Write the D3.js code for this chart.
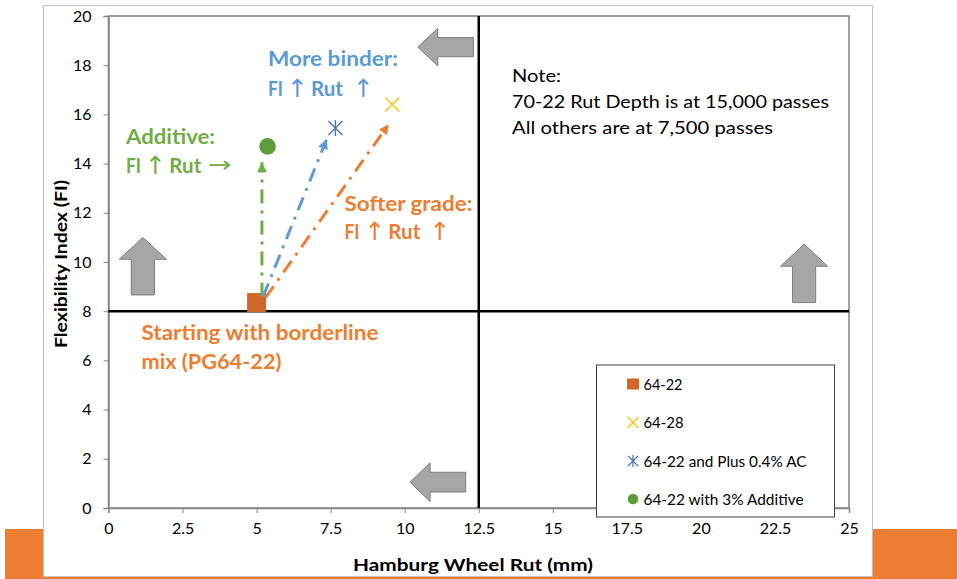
<!DOCTYPE html>
<html>
<head>
<meta charset="utf-8">
<script src="https://cdn.jsdelivr.net/npm/d3@7"></script>
<style>
  html, body { margin: 0; padding: 0; background: #fff; }
  svg { display: block; font-family: Lato, "Open Sans", "DejaVu Sans", sans-serif; }
</style>
</head>
<body>
<svg id="chart" width="957" height="579"></svg>
<script>
// ---- data ----
const xTicks = [0, 2.5, 5, 7.5, 10, 12.5, 15, 17.5, 20, 22.5, 25];
const yTicks = [0, 2, 4, 6, 8, 10, 12, 14, 16, 18, 20];
const seriesNames = ["64-22", "64-28", "64-22 and Plus 0.4% AC", "64-22 with 3% Additive"];
const rutValues = [5.0, 9.58, 7.66, 5.37];
const fiValues = [8.35, 16.4, 15.45, 14.7];
const thresholdRut = 12.5;
const thresholdFI = 8;

// dash-dot trend arrows from the base mix toward each modified mix
const trendNames = ["additive", "binder", "grade"];
const trendFrom = [[5.18, 8.6], [5.22, 8.6], [5.3, 8.55]];
const trendTo = [[5.18, 14.05], [7.37, 15.0], [9.46, 15.6]];

// block arrows marking the desirable direction in each region
const blockDirs = ["left", "up", "up", "left"];
const blockX = [[10.44, 12.32], [0.36, 1.96], [22.69, 24.28], [10.18, 12.06]];
const blockY = [[17.97, 19.5], [8.66, 11.0], [8.35, 10.73], [0.26, 1.84]];

const noteLines = ["Note:", "70-22 Rut Depth is at 15,000 passes", "All others are at 7,500 passes"];

// ---- layout ----
const svg = d3.select("#chart");
const W = 957, H = 579;
const x = d3.scaleLinear().domain([0, 25]).range([108.5, 849]);
const y = d3.scaleLinear().domain([0, 20]).range([508, 16]);

const colors = {
  square: "#D0672A", cross: "#FFC000", star: "#4472C4", dot: "#5E9C3B",
  blue: "#5B9BD5", green: "#70AD47", orange: "#ED7D31"
};

// orange band behind the chart frame
svg.append("rect").attr("x", 5).attr("y", 529).attr("width", W - 5).attr("height", H - 529)
  .attr("fill", "#ED7D31");
// chart frame
svg.append("rect").attr("x", 43.5).attr("y", 5.5).attr("width", 829).attr("height", 571)
  .attr("fill", "#fff").attr("stroke", "#BFBFBF").attr("stroke-width", 1);

// plot area border
svg.append("rect")
  .attr("x", x(0)).attr("y", y(20)).attr("width", x(25) - x(0)).attr("height", y(0) - y(20))
  .attr("fill", "none").attr("stroke", "#7F7F7F").attr("stroke-width", 1.5);

// axes
const yAxis = svg.append("g").attr("transform", `translate(${x(0)},0)`)
  .call(d3.axisLeft(y).tickValues(yTicks).tickSize(5).tickPadding(12).tickFormat(d3.format("d")));
const xAxis = svg.append("g").attr("transform", `translate(0,${y(0)})`)
  .call(d3.axisBottom(x).tickValues(xTicks).tickSize(5).tickPadding(10).tickFormat(d => String(d)));
[yAxis, xAxis].forEach(g => {
  g.selectAll(".domain").attr("stroke", "#868686").attr("stroke-width", 1.5);
  g.selectAll(".tick line").attr("stroke", "#868686").attr("stroke-width", 1);
  g.selectAll(".tick text").attr("fill", "#000").style("font-size", "16px")
    .style("font-family", "Lato, 'Open Sans', sans-serif");
});

// axis titles
svg.append("text").attr("x", 473).attr("y", 571).attr("text-anchor", "middle")
  .style("font-size", "17px").style("font-weight", "bold").attr("fill", "#000")
  .attr("textLength", 240).attr("lengthAdjust", "spacingAndGlyphs")
  .text("Hamburg Wheel Rut (mm)");
svg.append("text").attr("transform", "translate(67,264) rotate(-90)").attr("text-anchor", "middle")
  .style("font-size", "17px").style("font-weight", "bold").attr("fill", "#000")
  .attr("textLength", 168).attr("lengthAdjust", "spacingAndGlyphs")
  .text("Flexibility Index (FI)");

// threshold lines
svg.append("line").attr("x1", x(0)).attr("x2", x(25)).attr("y1", y(thresholdFI)).attr("y2", y(thresholdFI))
  .attr("stroke", "#000").attr("stroke-width", 2.5);
svg.append("line").attr("x1", x(thresholdRut)).attr("x2", x(thresholdRut)).attr("y1", y(20)).attr("y2", y(0))
  .attr("stroke", "#000").attr("stroke-width", 2.5);

// block arrows
function blockArrowPath(dir, xs, ys) {
  const x0 = x(xs[0]), x1 = x(xs[1]);
  const yTop = y(ys[1]), yBot = y(ys[0]);
  if (dir === "left") {
    const len = x1 - x0, h = yBot - yTop;
    const hb = x0 + len * 0.36, s = h * 0.255, cy = (yTop + yBot) / 2;
    return `M${x0},${cy} L${hb},${yTop} L${hb},${cy - s} L${x1},${cy - s} L${x1},${cy + s} L${hb},${cy + s} L${hb},${yBot} Z`;
  } else {
    const len = yBot - yTop, w = x1 - x0;
    const hb = yTop + len * 0.38, s = w * 0.245, cx = (x0 + x1) / 2;
    return `M${cx},${yTop} L${x1},${hb} L${cx + s},${hb} L${cx + s},${yBot} L${cx - s},${yBot} L${cx - s},${hb} L${x0},${hb} Z`;
  }
}
svg.append("g").selectAll("path").data(blockDirs).join("path")
  .attr("d", (d, i) => blockArrowPath(d, blockX[i], blockY[i]))
  .attr("fill", "#A6A6A6").attr("stroke", "#7F7F7F").attr("stroke-width", 1);

// data markers
const pts = svg.append("g");
// 64-22 square
pts.append("rect").attr("x", x(rutValues[0]) - 9.5).attr("y", y(fiValues[0]) - 9.5)
  .attr("width", 19).attr("height", 19).attr("fill", colors.square);
// 64-28 cross
const cx1 = x(rutValues[1]), cy1 = y(fiValues[1]);
pts.append("path").attr("d", `M${cx1 - 7},${cy1 - 7}L${cx1 + 7},${cy1 + 7}M${cx1 - 7},${cy1 + 7}L${cx1 + 7},${cy1 - 7}`)
  .attr("stroke", colors.cross).attr("stroke-width", 1.3).attr("fill", "none");
// 64-22 + AC asterisk
const cx2 = x(rutValues[2]), cy2 = y(fiValues[2]);
pts.append("path").attr("d", `M${cx2 - 7},${cy2 - 7}L${cx2 + 7},${cy2 + 7}M${cx2 - 7},${cy2 + 7}L${cx2 + 7},${cy2 - 7}M${cx2},${cy2 - 8}L${cx2},${cy2 + 8}`)
  .attr("stroke", colors.star).attr("stroke-width", 1.3).attr("fill", "none");
// additive circle
pts.append("circle").attr("cx", x(rutValues[3])).attr("cy", y(fiValues[3])).attr("r", 8.3)
  .attr("fill", colors.dot);

// trend arrows
const trendColors = [colors.green, colors.blue, colors.orange];
const defs = svg.append("defs");
trendNames.forEach((n, i) => {
  defs.append("marker").attr("id", "head-" + n).attr("viewBox", "0 0 10 10")
    .attr("refX", 10).attr("refY", 5).attr("markerWidth", 11).attr("markerHeight", 10)
    .attr("markerUnits", "userSpaceOnUse").attr("orient", "auto")
    .append("path").attr("d", "M0,0L10,5L0,10Z").attr("fill", trendColors[i]);
});
svg.append("g").selectAll("line").data(trendNames).join("line")
  .attr("x1", (d, i) => x(trendFrom[i][0])).attr("y1", (d, i) => y(trendFrom[i][1]))
  .attr("x2", (d, i) => x(trendTo[i][0])).attr("y2", (d, i) => y(trendTo[i][1]))
  .attr("stroke", (d, i) => trendColors[i]).attr("stroke-width", 3)
  .attr("stroke-dasharray", "14,7,3,7")
  .attr("marker-end", d => `url(#head-${d})`);

// annotation labels
function label(txt, px, py, color, size, len, weight) {
  const t = svg.append("text").attr("x", px).attr("y", py).attr("fill", color)
    .style("font-size", size + "px").style("font-weight", weight || "bold")
    .attr("xml:space", "preserve").text(txt);
  if (len) t.attr("textLength", len).attr("lengthAdjust", "spacingAndGlyphs");
  return t;
}
// tall thin arrow glyphs used inside the annotation lines
function arrowGlyph(ch, cxp, py, color, len) {
  const t = svg.append("text").attr("x", cxp).attr("y", py + 1).attr("fill", color)
    .attr("text-anchor", "middle")
    .style("font-family", "'DejaVu Sans', sans-serif").style("font-weight", "normal")
    .style("font-size", ch === "↑" ? "25px" : "22px").text(ch);
  if (len) t.attr("textLength", len).attr("lengthAdjust", "spacingAndGlyphs");
  return t;
}
label("More binder:", 268, 66, colors.blue, 20, 130);
label("FI", 268, 96, colors.blue, 20, 15);
arrowGlyph("↑", 297.5, 96, colors.blue);
label("Rut", 311, 96, colors.blue, 20, 32);
arrowGlyph("↑", 363.5, 96, colors.blue);

label("Additive:", 126, 143.5, colors.green, 20, 89);
label("FI", 126, 173, colors.green, 20, 15);
arrowGlyph("↑", 155.5, 173, colors.green);
label("Rut", 169.3, 173, colors.green, 20, 32);
arrowGlyph("→", 220, 171, colors.green, 24);

label("Softer grade:", 344.5, 210.5, colors.orange, 20, 128);
label("FI", 344.5, 238.5, colors.orange, 20, 15);
arrowGlyph("↑", 375, 238.5, colors.orange);
label("Rut", 388.3, 238.5, colors.orange, 20, 32);
arrowGlyph("↑", 440, 238.5, colors.orange);

label("Starting with borderline", 141.5, 340, colors.orange, 20, 237);
label("mix (PG64-22)", 141.5, 368.5, colors.orange, 20, 140);

// note
const noteLens = [49, 317, 261];
noteLines.forEach((l, i) => {
  label(l, 512, 81.5 + i * 26, "#000", 18, noteLens[i], "normal");
});

// legend
const lg = svg.append("g");
lg.append("rect").attr("x", 596.5).attr("y", 365).attr("width", 238).attr("height", 152)
  .attr("fill", "#fff").attr("stroke", "#404040").attr("stroke-width", 1);
const legY = [384.5, 422.5, 461, 499];
const legX = 633;
lg.append("rect").attr("x", legX - 6).attr("y", legY[0] - 6).attr("width", 12).attr("height", 11)
  .attr("fill", colors.square);
lg.append("path").attr("d", `M${legX - 5.5},${legY[1] - 5.5}L${legX + 5.5},${legY[1] + 5.5}M${legX - 5.5},${legY[1] + 5.5}L${legX + 5.5},${legY[1] - 5.5}`)
  .attr("stroke", colors.cross).attr("stroke-width", 1.2);
lg.append("path").attr("d", `M${legX - 5},${legY[2] - 5}L${legX + 5},${legY[2] + 5}M${legX - 5},${legY[2] + 5}L${legX + 5},${legY[2] - 5}M${legX},${legY[2] - 6}L${legX},${legY[2] + 6}`)
  .attr("stroke", colors.star).attr("stroke-width", 1.2);
lg.append("circle").attr("cx", legX).attr("cy", legY[3]).attr("r", 5.3).attr("fill", colors.dot);
const legLens = [39, 40, 163, 160];
lg.selectAll("text.leg").data(seriesNames).join("text").attr("class", "leg")
  .attr("x", 643.5).attr("y", (d, i) => legY[i] + 5.5)
  .attr("fill", "#000").style("font-size", "15px")
  .attr("textLength", (d, i) => legLens[i]).attr("lengthAdjust", "spacingAndGlyphs")
  .text(d => d);
</script>
</body>
</html>
